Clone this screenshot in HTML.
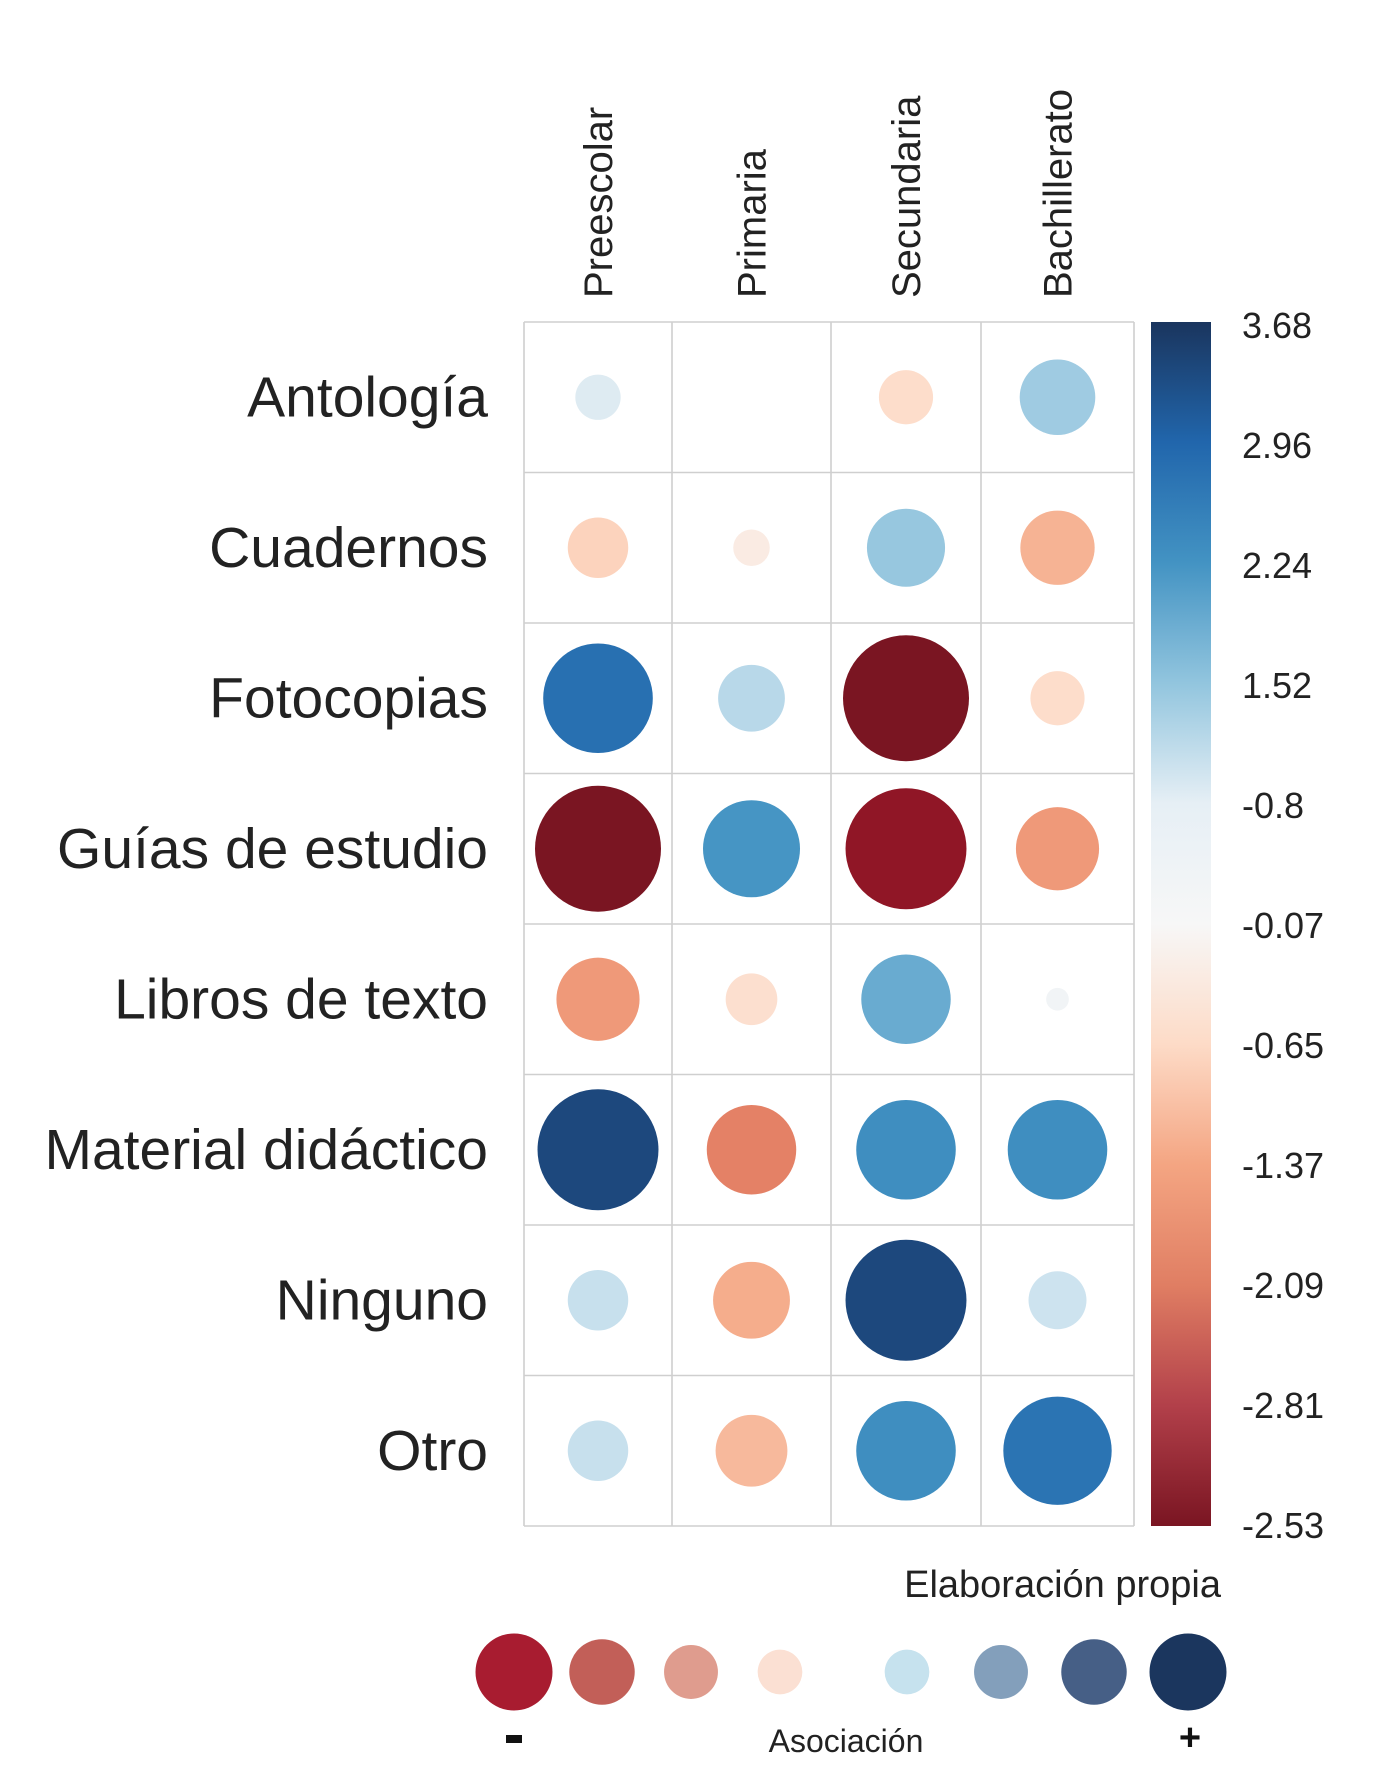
<!DOCTYPE html>
<html><head><meta charset="utf-8"><style>
html,body{margin:0;padding:0;background:#fff;}
svg{display:block;font-family:"Liberation Sans",sans-serif;}
</style></head><body>
<svg id="chart" width="1386" height="1776" viewBox="0 0 1386 1776">
<defs>
<linearGradient id="cbar" x1="0" y1="0" x2="0" y2="1">
<stop offset="0" stop-color="#1a355e"/><stop offset="0.1" stop-color="#2166ac"/>
<stop offset="0.2" stop-color="#4393c3"/><stop offset="0.3" stop-color="#92c5de"/>
<stop offset="0.4" stop-color="#e6eff5"/><stop offset="0.5" stop-color="#f7f7f7"/>
<stop offset="0.6" stop-color="#fddbc7"/><stop offset="0.7" stop-color="#f4a582"/>
<stop offset="0.8" stop-color="#e07e63"/><stop offset="0.9" stop-color="#b2404a"/>
<stop offset="1" stop-color="#7a1522"/>
</linearGradient>
</defs>
<g id="grid"></g>
<g id="marks"></g>
<g id="labels"></g>
<rect x="1151" y="322" width="60" height="1204" fill="url(#cbar)"/>
<g id="cbticks"></g>
<text x="1221" y="1597" text-anchor="end" font-size="38" fill="#222">Elaboración propia</text>
<g id="legend"></g>
<rect x="506" y="1735" width="16" height="8" fill="#111"/>
<text x="846" y="1752" text-anchor="middle" font-size="32" fill="#222">Asociación</text>
<text x="1190" y="1750" text-anchor="middle" font-size="38" font-weight="bold" fill="#111">+</text>
</svg>
<script>
const rows = ["Antología","Cuadernos","Fotocopias","Guías de estudio","Libros de texto","Material didáctico","Ninguno","Otro"];
const cols = ["Preescolar","Primaria","Secundaria","Bachillerato"];
const valPreescolar = [0.36,-0.48,0.87,-1.0,-0.66,0.96,0.48,0.48];
const valPrimaria = [0,-0.29,0.53,0.77,-0.41,-0.71,-0.61,-0.57];
const valSecundaria = [-0.43,0.62,-1.0,-0.96,0.71,0.79,0.96,0.79];
const valBachillerato = [0.6,-0.59,-0.43,-0.66,0.18,0.79,0.46,0.86];
const cbTicks = ["3.68","2.96","2.24","1.52","-0.8","-0.07","-0.65","-1.37","-2.09","-2.81","-2.53"];
const legendColors = ["#a81c30","#c25f58","#df9c8e","#fbe0d3","#c6e2ee","#839fbb","#465f86","#1b365e"];
const legendSizes = [-1,-0.85,-0.7,-0.58,0.58,0.7,0.85,1];

const NS="http://www.w3.org/2000/svg";
const colEdges=[524,672,831,981,1134];
const top0=322, rowH=150.5;
const xCenter=i=>(colEdges[i]+colEdges[i+1])/2;
const yCenter=j=>top0+rowH*(j+0.5);
const rScale=v=>Math.abs(v)*63;
const stops=["#7a1522","#b2182b","#d6604d","#f4a582","#fddbc7","#f7f7f7","#d1e5f0","#92c5de","#4393c3","#2166ac","#1a355e"];
function hex(h){return [1,3,5].map(k=>parseInt(h.substr(k,2),16));}
function color(v){
  const s=Math.sign(v)*Math.pow(Math.abs(v),2);
  const t=(s+1)/2*(stops.length-1);
  const i=Math.min(Math.floor(t),stops.length-2), f=t-i;
  const a=hex(stops[i]),b=hex(stops[i+1]);
  return "rgb("+a.map((x,k)=>Math.round(x+(b[k]-x)*f)).join(",")+")";
}
function mk(tag,attrs,parent){const e=document.createElementNS(NS,tag);for(const k in attrs)e.setAttribute(k,attrs[k]);parent.appendChild(e);return e;}
const grid=document.getElementById("grid");
for(let i=0;i<colEdges.length;i++){
  const l=mk("line",{x1:colEdges[i],x2:colEdges[i],y1:top0,y2:top0+rowH*rows.length,stroke:"#cfcfcf","stroke-width":1.6},grid);
  
  
}
for(let j=0;j<=rows.length;j++){
  const l=mk("line",{x1:colEdges[0],x2:colEdges[4],y1:top0+rowH*j,y2:top0+rowH*j,stroke:"#cfcfcf","stroke-width":1.6},grid);
  
  
}
const series=[valPreescolar,valPrimaria,valSecundaria,valBachillerato];
const marks=document.getElementById("marks");
series.forEach((arr,i)=>arr.forEach((v,j)=>{
  if(v===0)return;
  const c=mk("circle",{cx:xCenter(i),cy:yCenter(j),r:rScale(v),fill:color(v)},marks);
  
  
}));
const labels=document.getElementById("labels");
rows.forEach((r,j)=>{
  const t=mk("text",{x:488,y:yCenter(j)+19,"text-anchor":"end","font-size":57,fill:"#222"},labels);
  t.textContent=r;
  
  
});
cols.forEach((c,i)=>{
  const x=xCenter(i)+14;
  const t=mk("text",{x:x,y:298,transform:"rotate(-90 "+x+" 298)","font-size":40,fill:"#222"},labels);
  t.textContent=c;
  
  
});
const cb=document.getElementById("cbticks");
cbTicks.forEach((s,k)=>{
  const y=326+k*(1200/(cbTicks.length-1))+12;
  const t=mk("text",{x:1242,y:y,"font-size":36,fill:"#222"},cb);
  t.textContent=s;
  
  
});
const lg=document.getElementById("legend");
const lgX=[514,602,691,780,907,1001,1094,1188];
legendColors.forEach((c,k)=>{
  const e=mk("circle",{cx:lgX[k],cy:1672,r:Math.abs(legendSizes[k])*38.5,fill:c},lg);
  
  
});
</script>
</body></html>
